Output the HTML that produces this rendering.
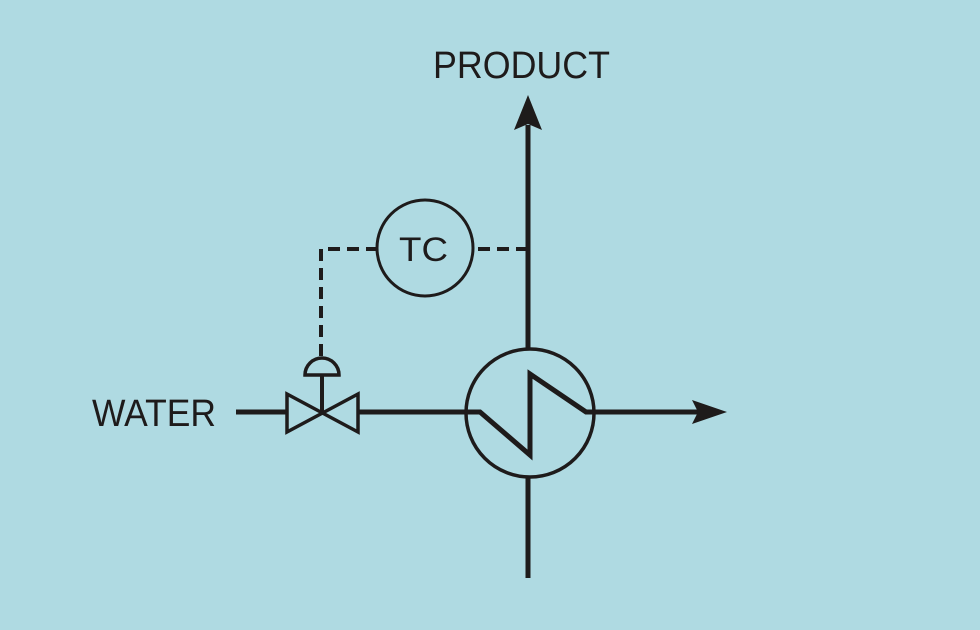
<!DOCTYPE html>
<html><head><style>html,body{margin:0;padding:0;background:#afdae2;}svg{display:block}</style></head>
<body>
<svg width="980" height="630" viewBox="0 0 980 630" xmlns="http://www.w3.org/2000/svg">
<rect width="980" height="630" fill="#afdae2"/>
<g font-family="Liberation Sans, Arial, sans-serif" fill="#1e1b1b">
<text x="433" y="78" font-size="38" textLength="177" lengthAdjust="spacingAndGlyphs">PRODUCT</text>
<text x="92" y="426" font-size="38" textLength="124" lengthAdjust="spacingAndGlyphs">WATER</text>
<text x="399" y="261" font-size="34" textLength="49" lengthAdjust="spacingAndGlyphs">TC</text>
</g>
<g stroke="#1e1b1b" fill="none">
<!-- main vertical -->
<line x1="528" y1="125" x2="528" y2="348" stroke-width="5"/>
<line x1="528" y1="478" x2="528" y2="578" stroke-width="5"/>
<polygon points="528,95 542,130 528,124 514,130" fill="#1e1b1b" stroke="none"/>
<!-- TC -->
<circle cx="425" cy="248" r="48" stroke-width="3"/>
<path d="M528,249 H473 M378,249 H321 V356" stroke-width="4" stroke-dasharray="12,7"/>
<!-- actuator -->
<path d="M305,375 A17,17 0 0 1 339,375 Z" stroke-width="3.5"/>
<line x1="322" y1="375" x2="322" y2="412" stroke-width="4"/>
<!-- valve -->
<polygon points="287,394 287,432 358,394 358,432" stroke-width="3.5" stroke-linejoin="miter"/>
<!-- pipes -->
<line x1="236" y1="412" x2="287" y2="412" stroke-width="5"/>
<line x1="358" y1="412" x2="467" y2="412" stroke-width="5"/>
<!-- exchanger -->
<circle cx="530" cy="413" r="64" stroke-width="3.5"/>
<polyline points="467,412 480,412 530,455 530,374 586,412 596,412" stroke-width="5" stroke-linejoin="miter"/>
<line x1="594" y1="412" x2="700" y2="412" stroke-width="5"/>
<polygon points="727,412 692,400 698,412 692,424" fill="#1e1b1b" stroke="none"/>
</g>
</svg>
</body></html>
